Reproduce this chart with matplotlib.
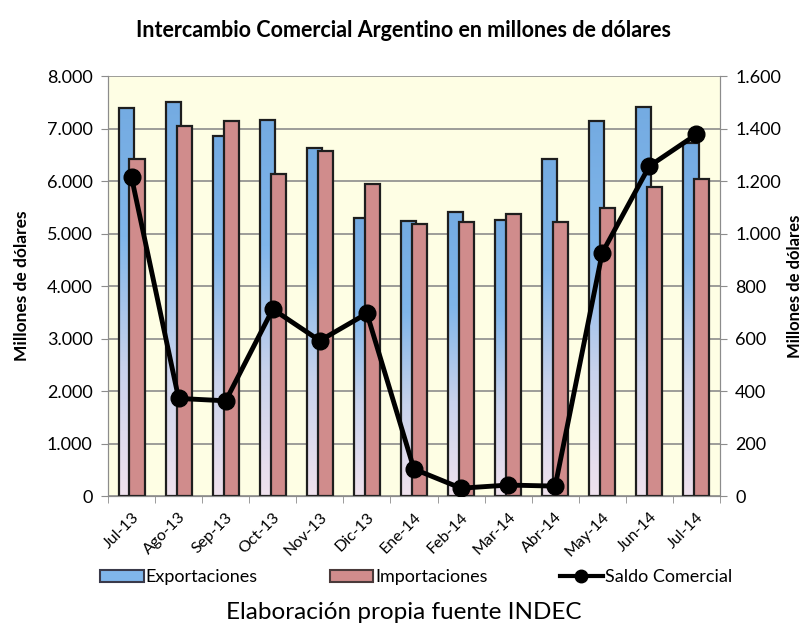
import numpy as np
import matplotlib.pyplot as plt
from matplotlib.patches import Patch
from matplotlib.lines import Line2D
from matplotlib.colors import LinearSegmentedColormap
from matplotlib.ticker import FuncFormatter

plt.rcParams['font.family'] = ['Lato', 'DejaVu Sans']

meses = ['Jul-13', 'Ago-13', 'Sep-13', 'Oct-13', 'Nov-13', 'Dic-13', 'Ene-14',
         'Feb-14', 'Mar-14', 'Abr-14', 'May-14', 'Jun-14', 'Jul-14']
exportaciones = [7400, 7505, 6857, 7162, 6625, 5300, 5232,
                 5415, 5257, 6420, 7143, 7403, 6730]
importaciones = [6413, 7053, 7143, 6139, 6577, 5937, 5175,
                 5225, 5371, 5225, 5491, 5886, 6038]
saldo = [1214, 372, 363, 712, 592, 696, 103, 30, 42, 38, 927, 1257, 1378]


def miles(v, pos):
    return f"{int(v):,}".replace(",", ".")


fig = plt.figure(figsize=(8.08, 6.24), dpi=100)
ax = fig.add_axes([0.1337, 0.205, 0.7573, 0.673])
ax.set_facecolor('#FEFEE4')

x = np.arange(len(meses))
w = 0.32
off = 0.115

# gradient for the export bars (blue on top, pale pink at the base)
grad = LinearSegmentedColormap.from_list('exp', ['#F0E2EE', '#C8D2EC', '#80B6EA', '#74ABE2'])
img = np.linspace(0, 1, 256).reshape(-1, 1)

bars_exp = ax.bar(x - off, exportaciones, w, color='none', edgecolor='#1E1E1E', linewidth=1.6, zorder=3)
for b in bars_exp:
    bx = b.get_x()
    im = ax.imshow(img, cmap=grad, origin='lower', aspect='auto',
                   extent=[bx, bx + b.get_width(), 0, b.get_height()], zorder=2)
    im.set_clip_path(b)
ax.bar(x + off, importaciones, w, color='#D08C8C', edgecolor='#1E1E1E', linewidth=1.6, zorder=4)

ax.set_xlim(-0.5, len(meses) - 0.5)
ax.set_ylim(0, 8000)
ax.set_yticks(np.arange(0, 8001, 1000))
ax.yaxis.set_major_formatter(FuncFormatter(miles))
ax.grid(axis='y', color='#8C8C8C', linewidth=1.2, zorder=1)
ax.set_axisbelow(True)
ax.set_xticks(x)
ax.set_xticklabels(meses, rotation=45, ha='right', rotation_mode='anchor', fontsize=11.5)
ax.set_xticks(np.arange(-0.5, len(meses)), minor=True)
ax.tick_params(axis='x', which='major', length=0, pad=10)
ax.tick_params(axis='x', which='minor', length=5, color='#8C8C8C')
ax.tick_params(axis='y', labelsize=13, color='#8C8C8C', length=5, pad=6)
for s in ax.spines.values():
    s.set_color('#8C8C8C')
ax.spines['top'].set_visible(False)
ax.set_ylabel('Millones de dólares', fontsize=12.5, fontweight='bold', labelpad=12)

ax2 = ax.twinx()
ax2.plot(x, saldo, color='black', linewidth=3.5, marker='o', markersize=12, zorder=5)
ax2.set_ylim(0, 1600)
ax2.set_yticks(np.arange(0, 1601, 200))
ax2.yaxis.set_major_formatter(FuncFormatter(miles))
ax2.tick_params(axis='y', labelsize=13, color='#8C8C8C', length=5, pad=6)
for s in ax2.spines.values():
    s.set_color('#8C8C8C')
ax2.spines['top'].set_visible(False)
ax2.set_ylabel('Millones de dólares', fontsize=12, fontweight='bold', rotation=90, labelpad=4)

fig.suptitle('Intercambio Comercial Argentino en millones de dólares',
             fontsize=15.5, fontweight='bold', y=0.968)

handles = [Patch(facecolor='#80B6EA', edgecolor='#3A3A4A', linewidth=1.5),
           Patch(facecolor='#D08C8C', edgecolor='#4A3A3A', linewidth=1.5),
           Line2D([], [], color='black', linewidth=3, marker='o', markersize=9)]
fig.legend(handles, ['Exportaciones', 'Importaciones', 'Saldo Comercial'],
           loc='center', bbox_to_anchor=(0.515, 0.075), ncol=3, frameon=False,
           fontsize=13, columnspacing=4.0, handlelength=2.4, handletextpad=0.1)

fig.text(0.5, 0.008, 'Elaboración propia fuente INDEC', ha='center', fontsize=17.5)

fig.savefig('out.png', dpi=100)
